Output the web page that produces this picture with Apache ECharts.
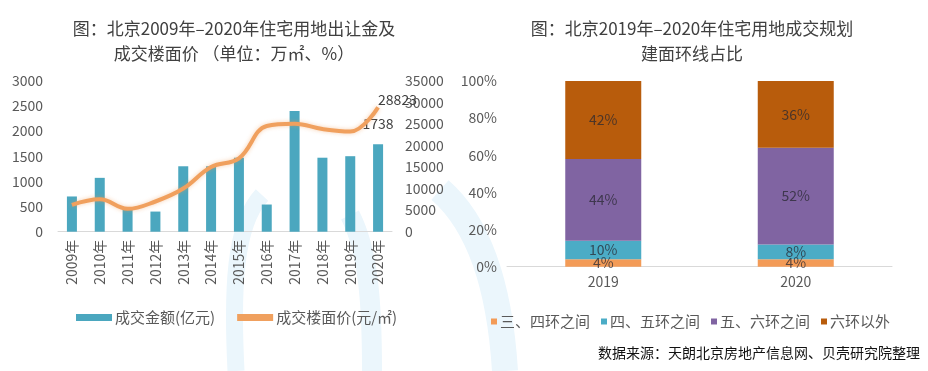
<!DOCTYPE html>
<html><head><meta charset="utf-8">
<script src="https://cdn.jsdelivr.net/npm/echarts@6/dist/echarts.min.js"></script>
<style>html,body{margin:0;padding:0;background:#fff}#c{width:928px;height:371px}</style>
</head><body><div id="c"></div>
<script>
const years = ['2009年','2010年','2011年','2012年','2013年','2014年','2015年','2016年','2017年','2018年','2019年','2020年'];
const amount = [700, 1070, 440, 400, 1300, 1300, 1470, 540, 2400, 1470, 1500, 1738];
const floorPrice = [6200, 7500, 5300, 7000, 10000, 15000, 17000, 24500, 25000, 23800, 23200, 28823];
const leftTicks = { min: 0, max: 3000, interval: 500 };
const rightTicks = { min: 0, max: 35000, interval: 5000 };

const ringYears = ['2019', '2020'];
const ring34 = [4, 4];
const ring45 = [10, 8];
const ring56 = [44, 52];
const ringOut = [42, 36];
const ringNames = ['三、四环之间', '四、五环之间', '五、六环之间', '六环以外'];

const FONT = '"Noto Sans CJK SC", "Noto Sans", sans-serif';
const GRAY = '#595959';
const chart = echarts.init(document.getElementById('c'), null, {renderer: 'canvas'});

const last = amount.length - 1;
const amountData = amount.map((v, i) => i === last ? {value: v, label: {show: true, position: 'top', distance: 14, color: '#404040', fontSize: 14, fontFamily: FONT, formatter: '{c}'}} : v);
const priceData = floorPrice.map((v, i) => i === last ? {value: v, label: {show: true, position: 'right', distance: 0, offset: [0, -8], color: '#404040', fontSize: 14, fontFamily: FONT, formatter: '{c}'}} : v);

const ringSeries = [ring34, ring45, ring56, ringOut];
const ringColors = ['#F39B57', '#4BACC6', '#8064A2', '#B85C0C'];
const WM = '#EBF6FC';

function wm(x1, y1, cx1, cy1, cx2, cy2, x2, y2, w) {
  return {type: 'bezierCurve', z: -10, silent: true,
    shape: {x1: x1, y1: y1, cpx1: cx1, cpy1: cy1, cpx2: cx2, cpy2: cy2, x2: x2, y2: y2},
    style: {fill: null, stroke: WM, lineWidth: w}};
}

chart.setOption({
  animation: false,
  textStyle: {fontFamily: FONT},
  title: [
    {text: '图：北京2009年–2020年住宅用地出让金及\n成交楼面价 （单位：万㎡、%）', left: 229, top: 11, textAlign: 'center',
     textStyle: {fontSize: 17, fontWeight: 'normal', color: '#404040', lineHeight: 25, fontFamily: FONT, align: 'center'}},
    {text: '图：北京2019年–2020年住宅用地成交规划\n建面环线占比', left: 687, top: 11, textAlign: 'center',
     textStyle: {fontSize: 17, fontWeight: 'normal', color: '#404040', lineHeight: 25, fontFamily: FONT, align: 'center'}}
  ],
  legend: [
    {left: 71, top: 305, itemWidth: 36, itemHeight: 7, itemGap: 22,
     textStyle: {fontSize: 15, color: GRAY, fontFamily: FONT, padding: [0, 0, 0, -2]},
     data: [{name: '成交金额(亿元)', icon: 'rect'}, {name: '成交楼面价(元/㎡)', icon: 'rect'}]},
    {left: 486, top: 309, itemWidth: 6, itemHeight: 6, itemGap: 11,
     textStyle: {fontSize: 15, color: GRAY, fontFamily: FONT, padding: [0, 0, 0, -2]},
     data: ringNames.map(n => ({name: n, icon: 'rect'}))}
  ],
  grid: [
    {left: 58, right: 536, top: 80.7, bottom: 139.3},
    {left: 507, right: 36, top: 81, bottom: 104.3}
  ],
  xAxis: [
    {type: 'category', gridIndex: 0, data: years,
     axisLine: {lineStyle: {color: '#D9D9D9'}}, axisTick: {show: false},
     axisLabel: {rotate: 90, color: GRAY, fontSize: 14, margin: 8, interval: 0, fontFamily: FONT}},
    {type: 'category', gridIndex: 1, data: ringYears,
     axisLine: {lineStyle: {color: '#D9D9D9'}}, axisTick: {show: false},
     axisLabel: {color: GRAY, fontSize: 14, margin: 8, fontFamily: FONT}}
  ],
  yAxis: [
    {type: 'value', gridIndex: 0, min: leftTicks.min, max: leftTicks.max, interval: leftTicks.interval,
     axisLine: {show: false}, axisTick: {show: false}, splitLine: {show: false},
     axisLabel: {color: GRAY, fontSize: 14, margin: 15, fontFamily: FONT, formatter: v => String(v)}},
    {type: 'value', gridIndex: 0, position: 'right', min: rightTicks.min, max: rightTicks.max, interval: rightTicks.interval,
     axisLine: {show: false}, axisTick: {show: false}, splitLine: {show: false},
     axisLabel: {color: GRAY, fontSize: 14, margin: 13, fontFamily: FONT, formatter: v => String(v)}},
    {type: 'value', gridIndex: 1, min: 0, max: 100, interval: 20,
     axisLine: {show: false}, axisTick: {show: false}, splitLine: {show: false},
     axisLabel: {color: GRAY, fontSize: 14, margin: 10, formatter: '{value}%', fontFamily: FONT}}
  ],
  series: [
    {name: '成交金额(亿元)', type: 'bar', xAxisIndex: 0, yAxisIndex: 0, data: amountData, barWidth: 10,
     itemStyle: {color: '#4BA7BF'}},
    {name: '成交楼面价(元/㎡)', type: 'line', xAxisIndex: 0, yAxisIndex: 1, data: priceData, smooth: 0.4,
     symbol: 'circle', symbolSize: 0, showSymbol: true,
     lineStyle: {color: '#F0A05E', width: 4, shadowColor: 'rgba(240,150,80,0.45)', shadowBlur: 4},
     itemStyle: {color: '#F0A05E'}, z: 5}
  ].concat(ringSeries.map((arr, k) => ({
     name: ringNames[k], type: 'bar', stack: 'ring', xAxisIndex: 1, yAxisIndex: 2, data: arr, barWidth: 76,
     itemStyle: {color: ringColors[k]},
     label: {show: true, position: 'inside', formatter: '{c}%', color: 'rgba(40,40,50,0.75)', fontSize: 14, fontFamily: FONT}
  }))),
  graphic: [
    wm(236, 371, 232, 290, 234, 225, 262, 195, 17),
    wm(505, 371, 500, 290, 480, 225, 440, 190, 26),
    wm(372, 371, 372, 300, 368, 250, 350, 215, 20),
    {type: 'text', right: 8, top: 346, style: {text: '数据来源：天朗北京房地产信息网、贝壳研究院整理', fontSize: 14, fill: '#111', fontFamily: FONT}},
    {type: 'text', left: 911, top: 349, style: {text: '↵', fontSize: 10, fill: '#999', fontFamily: FONT}}
  ]
});
</script></body></html>
